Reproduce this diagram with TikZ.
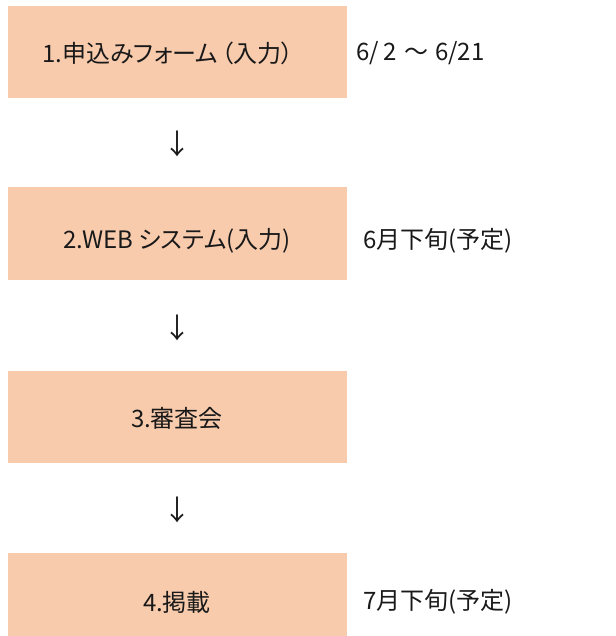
\documentclass[tikz,border=0pt]{standalone}
\usepackage{fontspec}
\setmainfont[RawFeature=+palt]{Noto Sans CJK JP}
\newfontfamily\plainjp{Noto Sans CJK JP}
\definecolor{peach}{HTML}{F8CBAD}
\begin{document}
\begin{tikzpicture}[x=1pt,y=1pt,
  stepbox/.style={fill=peach,draw=none,minimum width=339pt,minimum height=92pt,inner sep=0pt},
  lbl/.style={font=\fontsize{24}{28}\selectfont,inner sep=0pt,text=black!90},
  side/.style={lbl,anchor=west},
  arr/.style={font=\plainjp\fontsize{28}{30}\selectfont,inner sep=0pt,text=black!90}]
\useasboundingbox (0,0) rectangle (615,-636);
\node[stepbox] (b1) at (177.5,-52) {};
\node[stepbox] (b2) at (177.5,-233.5) {};
\node[stepbox] (b3) at (177.5,-417) {};
\node[stepbox] (b4) at (177.5,-599) {};
\node[lbl] (t1) at (168,-53.5) {1.申込みフォーム\hspace{4pt}（入力）};
\node[lbl] (t2) at (177,-241) {2.WEB システム(入力)};
\node[lbl] (t3) at (177,-418) {3.審査会};
\node[lbl] (t4) at (177,-602) {4.掲載};
\node[side] (s1) at (356,-53.5) {6/\hspace{5pt}2\hspace{7pt}{\plainjp ～}\hspace{7pt}6/21};
\node[side] (s2) at (363,-241) {6月下旬(予定)};
\node[side] (s4) at (363,-602) {7月下旬(予定)};
\node[arr] (a1) at (177,-144) {↓};
\node[arr] (a2) at (177,-328) {↓};
\node[arr] (a3) at (177,-510) {↓};
\end{tikzpicture}
\end{document}
